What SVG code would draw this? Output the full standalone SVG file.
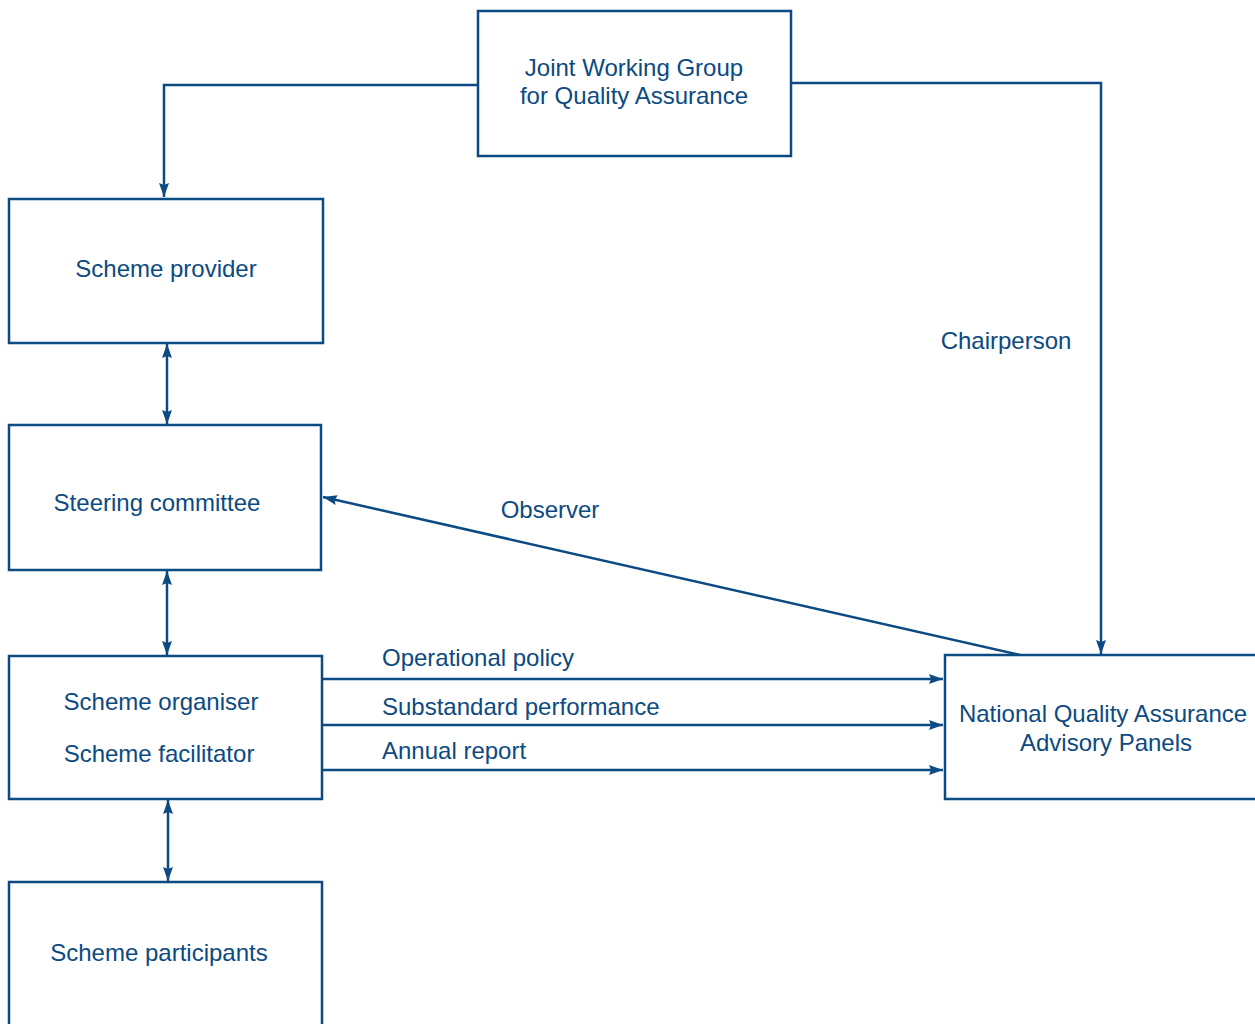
<svg xmlns="http://www.w3.org/2000/svg" width="1255" height="1024" viewBox="0 0 1255 1024">
<defs>
<marker id="arr" viewBox="0 0 14 10" refX="14" refY="5" markerWidth="14" markerHeight="10" markerUnits="userSpaceOnUse" orient="auto-start-reverse">
<path d="M0,0 L14,5 L0,10 L2,5 Z" fill="#0b4a82"/>
</marker>
<style>
.box{fill:#fff;stroke:#0b4a82;stroke-width:2.5}
.ln{fill:none;stroke:#0b4a82;stroke-width:2.5}
text{font-family:"Liberation Sans",Arial,sans-serif;font-size:24px;fill:#0b4a82}
.c{text-anchor:middle}
</style>
</defs>
<rect width="1255" height="1024" fill="#fff"/>
<g id="connectors">
<path class="ln" d="M478,85 H164 V197" marker-end="url(#arr)"/>
<path class="ln" d="M791,83 H1101 V654" marker-end="url(#arr)"/>
<path class="ln" d="M167,344 V424" marker-start="url(#arr)" marker-end="url(#arr)"/>
<path class="ln" d="M167,571 V655" marker-start="url(#arr)" marker-end="url(#arr)"/>
<path class="ln" d="M168,800 V881" marker-start="url(#arr)" marker-end="url(#arr)"/>
<path class="ln" d="M1020,655 L323,497" marker-end="url(#arr)"/>
<path class="ln" d="M323,679 H943" marker-end="url(#arr)"/>
<path class="ln" d="M323,725 H943" marker-end="url(#arr)"/>
<path class="ln" d="M323,770 H943" marker-end="url(#arr)"/>
<text x="1006" y="349" class="c">Chairperson</text>
<text x="550" y="518" class="c">Observer</text>
<text x="382" y="666">Operational policy</text>
<text x="382" y="715">Substandard performance</text>
<text x="382" y="759">Annual report</text>
</g>
<g id="jwg">
<rect class="box" x="478" y="11" width="313" height="145"/>
<text x="634" y="76" class="c">Joint Working Group</text>
<text x="634" y="104" class="c">for Quality Assurance</text>
</g>
<g id="provider">
<rect class="box" x="9" y="199" width="314" height="144"/>
<text x="166" y="277" class="c">Scheme provider</text>
</g>
<g id="steering">
<rect class="box" x="9" y="425" width="312" height="145"/>
<text x="157" y="511" class="c">Steering committee</text>
</g>
<g id="organiser">
<rect class="box" x="9" y="656" width="313" height="143"/>
<text x="161" y="710" class="c">Scheme organiser</text>
<text x="159" y="762" class="c">Scheme facilitator</text>
</g>
<g id="participants">
<rect class="box" x="9" y="882" width="313" height="160"/>
<text x="159" y="961" class="c">Scheme participants</text>
</g>
<g id="nqaap">
<rect class="box" x="945" y="655" width="320" height="144"/>
<text x="1103" y="722" class="c">National Quality Assurance</text>
<text x="1106" y="751" class="c">Advisory Panels</text>
</g>
</svg>
